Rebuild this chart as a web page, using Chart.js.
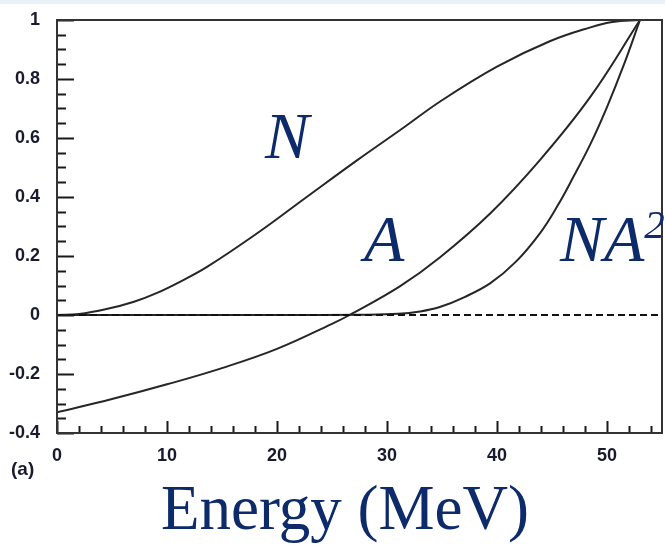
<!DOCTYPE html>
<html>
<head>
<meta charset="utf-8">
<script src="https://cdn.jsdelivr.net/npm/chart.js@4"></script>
<style>
	body { margin: 0; background: #ffffff; }
	.wrap { position: relative; width: 665px; height: 546px; overflow: hidden; }
	.band { position: absolute; left: 0; top: 0; width: 665px; height: 4px; background: #e9f1f9; }
	.lbl { position: absolute; font-family: "Liberation Serif", serif; font-style: italic; color: #0d2a6b; font-size: 66px; line-height: 1; white-space: nowrap; }
	.lbl sup { font-size: 41px; vertical-align: 0; position: relative; top: -23px; }
	.xtitle { position: absolute; font-family: "Liberation Serif", serif; color: #0d2a6b; font-size: 63px; line-height: 1; white-space: nowrap; }
	.panel { position: absolute; font-family: "Liberation Sans", Arial, sans-serif; font-weight: bold; font-size: 19px; color: #1a1a2e; }
</style>
</head>
<body>
<div class="wrap">
	<canvas id="myChart" width="665" height="546"></canvas>
	<div class="band"></div>
	<div class="lbl" style="left:265px; top:103px;">N</div>
	<div class="lbl" style="left:364px; top:206px;">A</div>
	<div class="lbl" style="left:560px; top:206px;">NA<sup>2</sup></div>
	<div class="panel" style="left:11px; top:458px;">(a)</div>
	<div class="xtitle" style="left:161px; top:477px;">Energy (MeV)</div>
</div>
<script>
// Data
const energyN = [0, 2, 4.5, 7, 9.1, 11.3, 13.6, 18.2, 22.7, 27.3, 31.2, 35, 40, 44.8, 48.5, 50.5, 53];
const valuesN = [0, 0.003, 0.02, 0.045, 0.075, 0.115, 0.162, 0.277, 0.4, 0.525, 0.627, 0.728, 0.842, 0.928, 0.975, 0.993, 1];

const energyA = [0, 5, 10, 15, 20, 25, 26.6, 31.2, 34.8, 39.4, 43.9, 48.5, 53];
const valuesA = [-0.33, -0.285, -0.235, -0.18, -0.115, -0.03, 0, 0.098, 0.195, 0.345, 0.525, 0.74, 1];

const energyNA2 = [0, 20, 28, 31, 33, 34.8, 37, 39.4, 41.7, 43.9, 45.5, 46.9, 48.5, 50, 51.5, 53];
const valuesNA2 = [0, 0, 0.001, 0.004, 0.012, 0.027, 0.06, 0.108, 0.18, 0.277, 0.37, 0.465, 0.58, 0.705, 0.845, 1];

const energyZero = [0, 55];
const valuesZero = [0, 0];

const xTickLabels = [0, 10, 20, 30, 40, 50];
const yTickLabels = [-0.4, -0.2, 0, 0.2, 0.4, 0.6, 0.8, 1];

function toPoints(xs, ys) {
	return xs.map((x, i) => ({ x: x, y: ys[i] }));
}

function curve(xs, ys) {
	return {
		data: toPoints(xs, ys),
		borderColor: "#262626",
		borderWidth: 2,
		pointRadius: 0,
		tension: 0.4,
		fill: false,
	};
}

// Box and inward ticks
const frameTicks = {
	id: "frameTicks",
	afterDraw(chart) {
		const ctx = chart.ctx;
		const a = chart.chartArea;
		const xs = chart.scales.x;
		const ys = chart.scales.y;
		ctx.save();
		ctx.strokeStyle = "#1a1a1a";
		ctx.lineWidth = 2;
		ctx.beginPath();
		// minor every 2 on x, major at 10s
		for (let v = 0; v <= 55; v += 2) {
			const px = Math.round(xs.getPixelForValue(v)) + 0.5;
			ctx.moveTo(px, a.bottom);
			ctx.lineTo(px, a.bottom - 7);
		}
		xTickLabels.forEach((v) => {
			const px = Math.round(xs.getPixelForValue(v)) + 0.5;
			ctx.moveTo(px, a.bottom);
			ctx.lineTo(px, a.bottom - 12);
		});
		// minor every 0.05 on y, major at 0.2
		for (let i = -8; i <= 20; i++) {
			const py = Math.round(ys.getPixelForValue(i * 0.05)) + 0.5;
			ctx.moveTo(a.left, py);
			ctx.lineTo(a.left + 9, py);
		}
		yTickLabels.forEach((v) => {
			const py = Math.round(ys.getPixelForValue(v)) + 0.5;
			ctx.moveTo(a.left, py);
			ctx.lineTo(a.left + 17, py);
		});
		ctx.stroke();
		// box
		ctx.lineWidth = 2;
		ctx.strokeStyle = "#333333";
		ctx.strokeRect(a.left, a.top, a.right - a.left, a.bottom - a.top);
		ctx.restore();
	},
};

const tickFont = { family: "'Liberation Sans', Arial, sans-serif", size: 18, weight: "bold" };

new Chart(document.getElementById("myChart"), {
	type: "line",
	data: {
		datasets: [
			{
				data: toPoints(energyZero, valuesZero),
				borderColor: "#111111",
				borderWidth: 2,
				borderDash: [7, 4],
				pointRadius: 0,
				fill: false,
			},
			curve(energyN, valuesN),
			curve(energyA, valuesA),
			curve(energyNA2, valuesNA2),
		],
	},
	options: {
		responsive: false,
		animation: false,
		layout: { padding: { left: 0, top: 20, right: 3, bottom: 83 } },
		plugins: {
			legend: { display: false },
			tooltip: { enabled: false },
		},
		scales: {
			x: {
				type: "linear",
				min: 0,
				max: 55,
				grid: { display: false },
				border: { display: true, color: "#1a1a1a", width: 2 },
				afterBuildTicks: (scale) => {
					scale.ticks = xTickLabels.map((v) => ({ value: v }));
				},
				afterFit: (scale) => {
					scale.height = 30;
				},
				ticks: { font: tickFont, color: "#1a1a2e", padding: 4, maxRotation: 0 },
			},
			y: {
				type: "linear",
				min: -0.4,
				max: 1,
				grid: { display: false },
				border: { display: true, color: "#1a1a1a", width: 2 },
				afterBuildTicks: (scale) => {
					scale.ticks = yTickLabels.map((v) => ({ value: v }));
				},
				afterFit: (scale) => {
					scale.width = 57;
				},
				ticks: {
					font: tickFont,
					color: "#1a1a2e",
					padding: 9,
					callback: (v) => String(Math.round(v * 10) / 10),
				},
			},
		},
	},
	plugins: [frameTicks],
});
</script>
</body>
</html>
